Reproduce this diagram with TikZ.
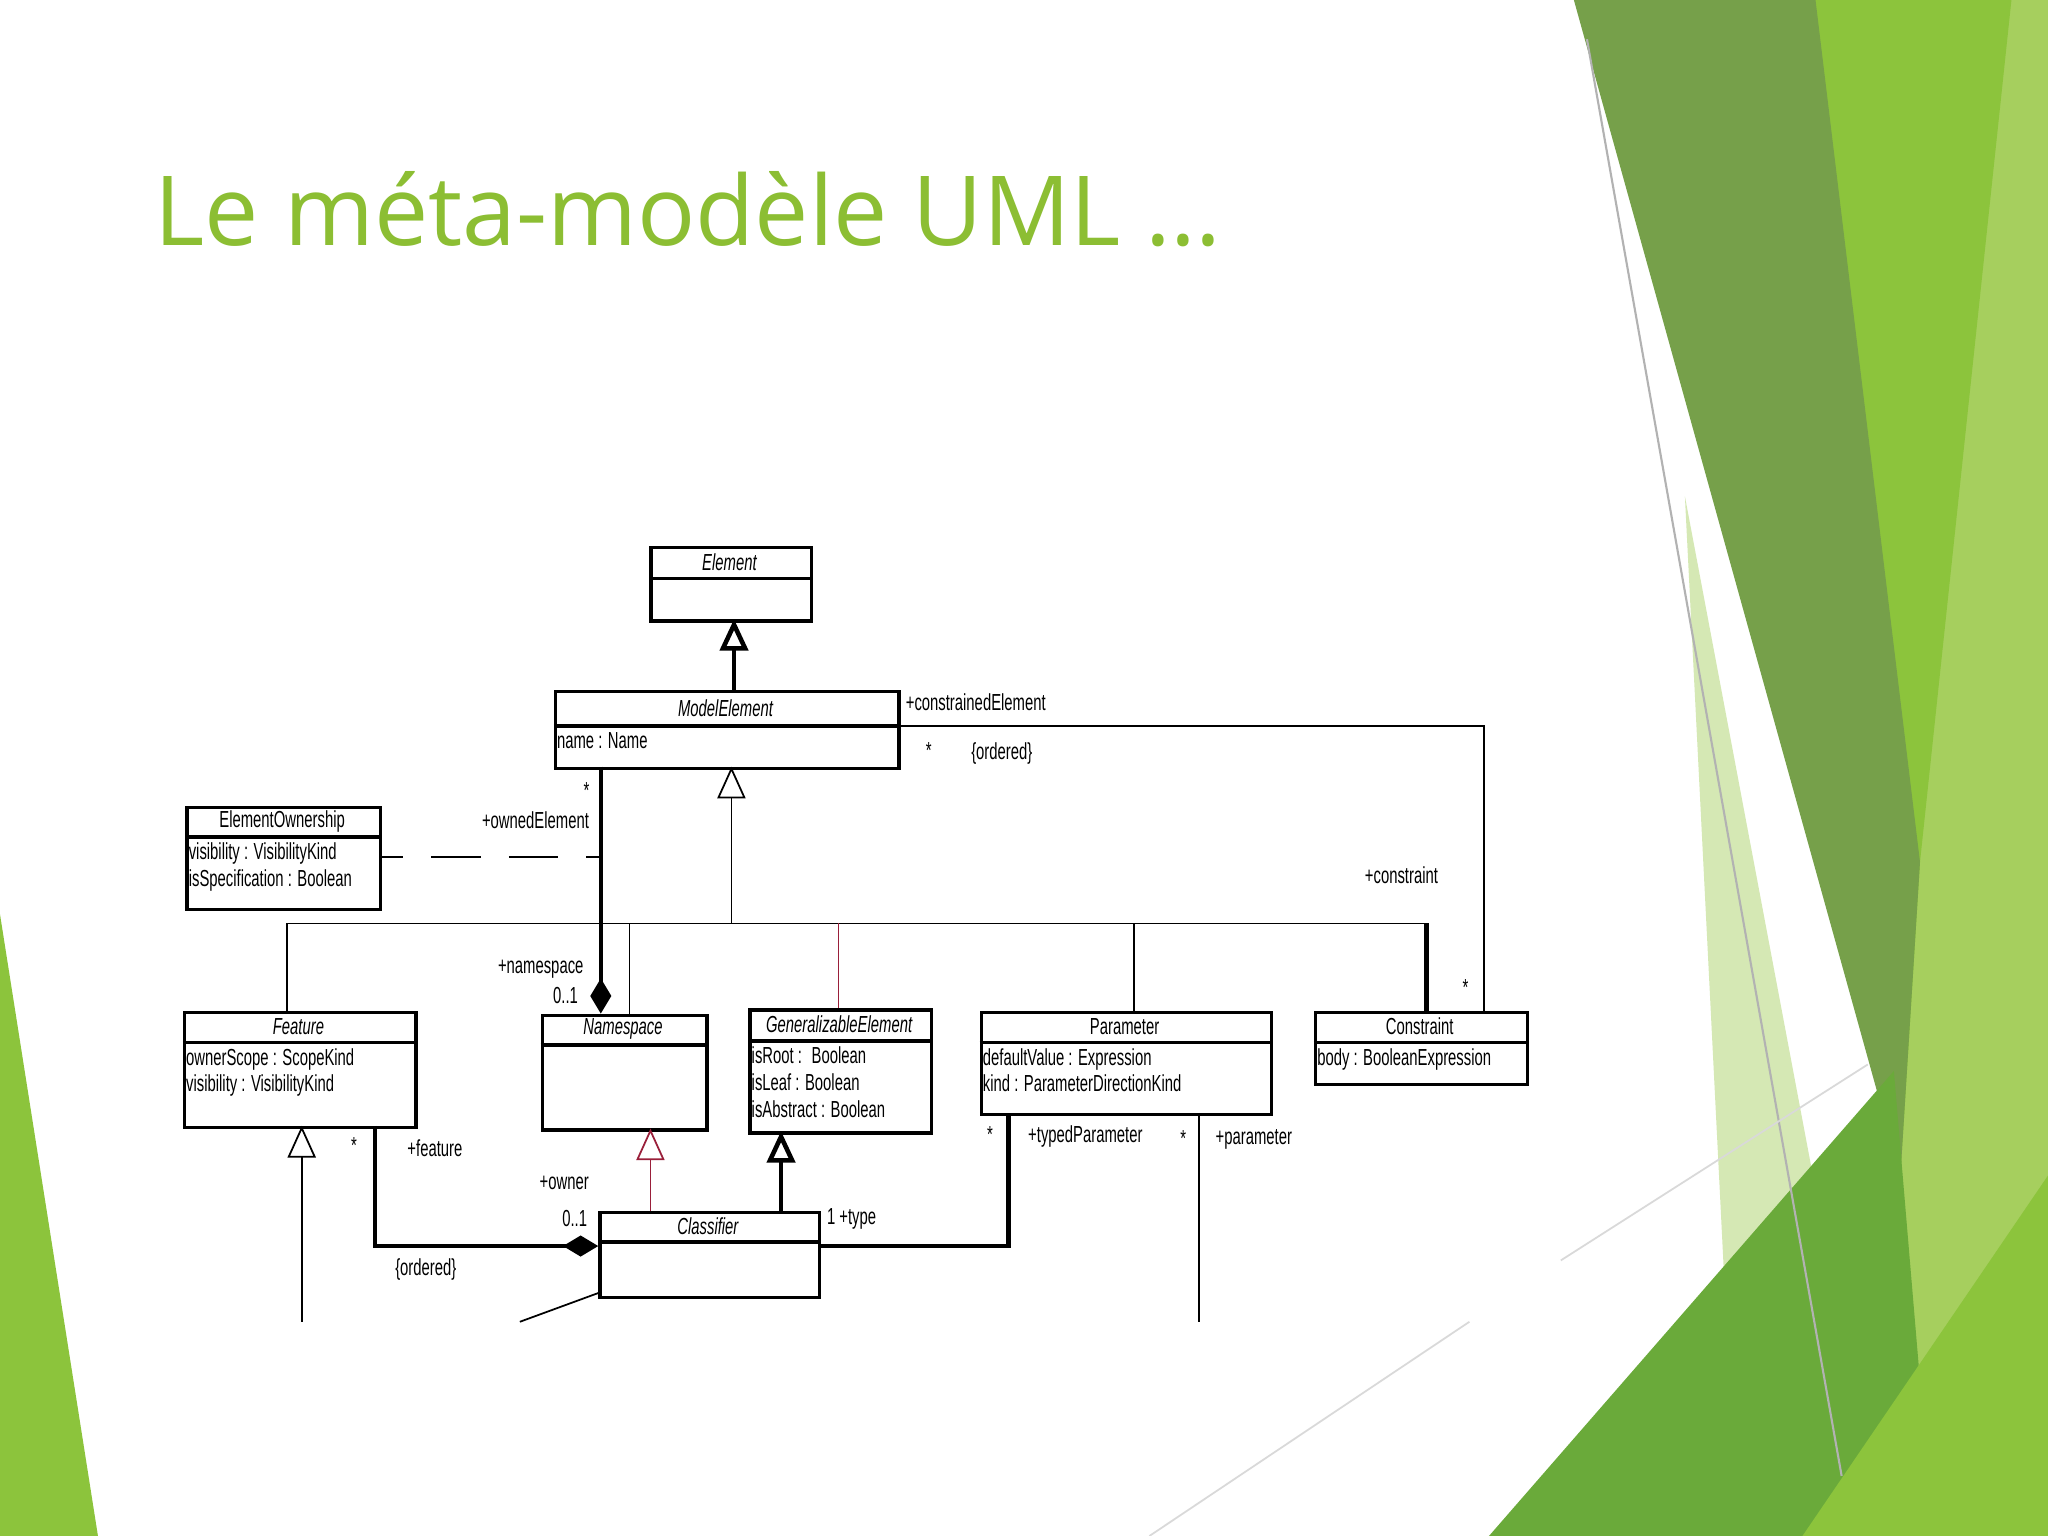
\documentclass[tikz,border=0pt]{standalone}
\usepackage{fontspec}
\setmainfont{Liberation Sans}
\newfontfamily\umlf{Liberation Sans}[FakeStretch=0.64]
\newfontfamily\titf{Open Sans}
\usetikzlibrary{arrows.meta}
\definecolor{tgreen}{HTML}{8CBE33}
\definecolor{g1}{HTML}{76A04A}
\definecolor{g2}{HTML}{8CC43C}
\definecolor{g3}{HTML}{A6CF5E}
\definecolor{g4}{HTML}{D5E8B4}
\definecolor{g5}{HTML}{6AAA3A}
\definecolor{dred}{HTML}{9A1F3A}
\tikzset{
  x=0.013061cm, y=-0.013061cm,
  box/.style={draw, line width=1pt},
  t/.style={font=\umlf\fontsize{6.6}{7.6}\selectfont, inner sep=0pt},
  ta/.style={t, anchor=north west, align=left},
  thin/.style={line width=0.5pt},
  thick2/.style={line width=1.3pt},
  gen/.style={-{Triangle[open, length=9pt, width=8pt]}},
  comp/.style={-{Diamond[length=10pt, width=6pt]}},
}
\newcommand\umlbox[8]{%
  \node[box, anchor=north west, minimum width={(#4-#2)*0.013061cm}, minimum height={(#5-#3)*0.013061cm}, inner sep=0pt] (#1) at (#2,#3) {};
  \draw[line width=1pt] (#2,#6) -- (#4,#6);
  \node[t] (#1-t) at ({(#2+#4)/2},{(#3+#6)/2}) {#7};
  \node[ta] (#1-a) at (#2+2,#6+4) {#8};
}
\begin{document}
\begin{tikzpicture}
\useasboundingbox (0,0) rectangle (1568,1176);
\fill[white] (0,0) rectangle (1568,1176);
% background shapes
\fill[g4] (1290,380) -- (1440,1176) -- (1330,1176) -- cycle;
\fill[g3] (1385,0) -- (1568,0) -- (1568,1176) -- (1470,1176) -- cycle;
\fill[g2] (1385,0) -- (1540,0) -- (1470,660) -- (1455,900) -- cycle;
\fill[g1] (1205,0) -- (1390,0) -- (1470,660) -- (1455,900) -- cycle;
\fill[g5] (1140,1176) -- (1450,820) -- (1480,1176) -- cycle;
\fill[g2] (1380,1176) -- (1568,900) -- (1568,1176) -- cycle;
\fill[g2] (0,700) -- (75,1176) -- (0,1176) -- cycle;
\draw[gray!60, line width=0.6pt] (1215,30) -- (1410,1130);
\draw[gray!30, line width=0.5pt] (1195,965) -- (1430,815);
\draw[gray!30, line width=0.5pt] (880,1176) -- (1125,1012);
% title
\node[anchor=base west, inner sep=0pt, text=tgreen, font=\titf\fontsize{27.5}{32}\selectfont] (title) at (118,188) {Le méta-modèle UML …};
% classes
\umlbox{el}{497}{418}{620}{474}{443}{\itshape Element}{}
\umlbox{me}{424}{528}{687}{587}{556}{\itshape ModelElement}{name : Name}
\umlbox{eo}{142}{617}{290}{695}{641}{ElementOwnership}{visibility : VisibilityKind\\isSpecification : Boolean}
\umlbox{fe}{140}{774}{317}{862}{798}{\itshape Feature}{ownerScope : ScopeKind\\visibility : VisibilityKind}
\umlbox{ns}{414}{776}{540}{864}{800}{\itshape Namespace}{}
\umlbox{ge}{573}{772}{712}{866}{797}{\itshape GeneralizableElement}{isRoot : \ Boolean\\isLeaf : Boolean\\isAbstract : Boolean}
\umlbox{pa}{750}{774}{972}{852}{798}{Parameter}{defaultValue : Expression\\kind : ParameterDirectionKind}
\umlbox{co}{1006}{774}{1168}{829}{798}{Constraint}{body : BooleanExpression}
\umlbox{cl}{458}{927}{626}{992}{951}{\itshape Classifier}{}
% coordinates
\coordinate (j) at (560,707);
\coordinate (jl) at (220,707);
\coordinate (jr) at (1092,707);
\coordinate (c1) at (1136,556);
\coordinate (f1) at (287,954);
\coordinate (p1) at (772,954);
\coordinate (pe) at (918,1012);
\coordinate (fb) at (231,1012);
\coordinate (cb) at (398,1012);
\coordinate (da) at (460,656);
% generalizations
\draw[thick2, gen] (562,528) -- (562,474);
\draw[thin, gen] (j) -- (560,587);
\draw[thin] (jl) -- (jr);
\draw[thin] (jl) -- (220,774);
\draw[thin] (482,707) -- (482,776);
\draw[thin, dred] (642,707) -- (642,772);
\draw[thin] (868,707) -- (868,774);
\draw[thick2] (jr) -- (1092,774);
\draw[thin, dred, gen] (498,927) -- (498,864);
\draw[thick2, gen] (598,927) -- (598,866);
\draw[thin, gen] (fb) -- (231,862);
% associations
\draw[thick2, comp] (460,587) -- (460,776);
\draw[thin, dash pattern=on 14pt off 8pt, dash phase=-14pt] (eo.east |- da) -- (da);
\draw[thin] (me.east |- c1) -- (c1) -- (1136,774);
\draw[thick2, comp] (287,862) -- (f1) -- (cl.west |- f1);
\draw[thick2] (cl.east |- p1) -- (p1) -- (772,852);
\draw[thin] (918,852) -- (pe);
\draw[thin] (458,990) -- (cb);
% labels
\node[t] (l1) at (449,605) {*};
\node[t] (l2) at (410,628) {+ownedElement};
\node[t] (l3) at (414,742) {+namespace};
\node[t] (l4) at (433,762) {0..1};
\node[t,anchor=west] (l5) at (693,538) {+constrainedElement};
\node[t] (l6) at (711,575) {*};
\node[t] (l7) at (767,577) {\{ordered\}};
\node[t] (l8) at (1073,670) {+constraint};
\node[t] (l9) at (1122,756) {*};
\node[t] (l10) at (271,877) {*};
\node[t] (l11) at (333,879) {+feature};
\node[t] (l12) at (432,906) {+owner};
\node[t] (l13) at (440,933) {0..1};
\node[t] (l14) at (326,972) {\{ordered\}};
\node[t] (l15) at (652,933) {1 +type};
\node[t] (l16) at (758,869) {*};
\node[t] (l17) at (831,870) {+typedParameter};
\node[t] (l18) at (906,872) {*};
\node[t] (l19) at (960,872) {+parameter};
\end{tikzpicture}
\end{document}
